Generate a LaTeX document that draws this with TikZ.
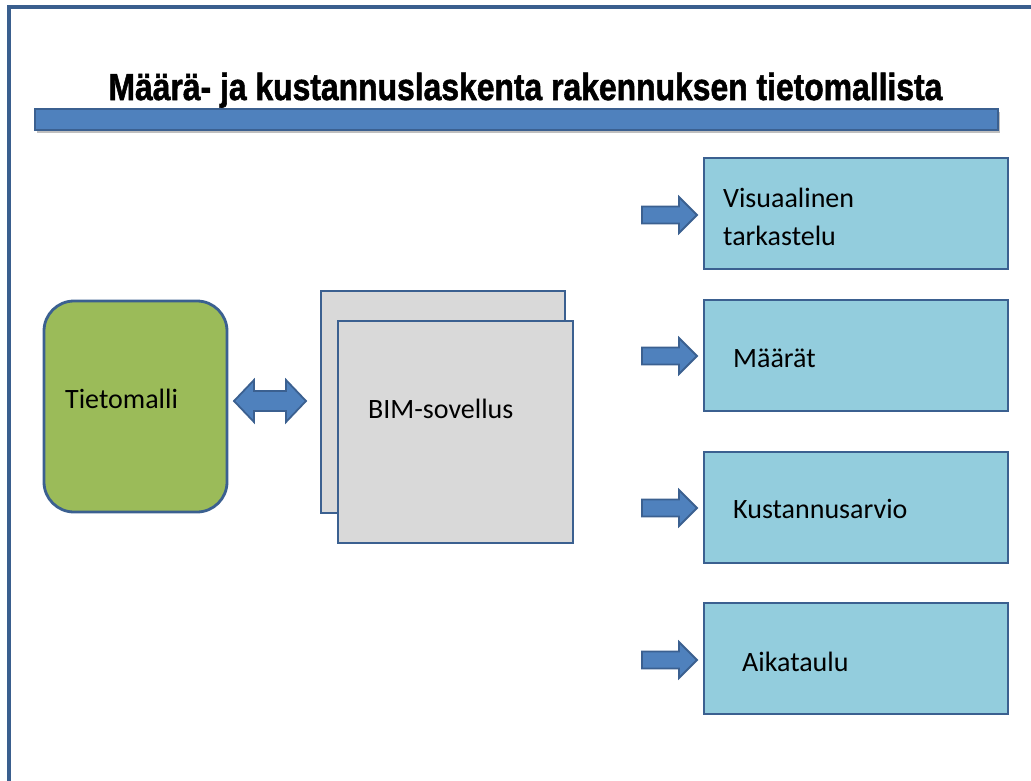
\documentclass[tikz,border=0pt]{standalone}
\usepackage{fontspec}
\setmainfont{Carlito}
\newfontfamily\titlefont[FakeBold=1.6]{Liberation Sans}
\usetikzlibrary{positioning}
\definecolor{frameblue}{HTML}{3A5F8E}
\definecolor{barblue}{HTML}{4F81BD}
\definecolor{bordblue}{HTML}{3B6090}
\definecolor{modelgreen}{HTML}{9BBB59}
\definecolor{bimgray}{HTML}{D9D9D9}
\definecolor{outblue}{HTML}{93CDDD}
\tikzset{
  boxline/.style={draw=bordblue, line width=2.8pt},
  outbox/.style={boxline, fill=outblue},
  bimbox/.style={boxline, fill=bimgray},
  blockarrow/.style={draw=bordblue, line width=1.8pt, fill=barblue, line join=miter},
  bodytext/.style={font=\fontsize{28}{38}\selectfont, anchor=base west, align=left, inner sep=0pt},
}
\begin{document}
\begin{tikzpicture}[x=1pt,y=-1pt]
\useasboundingbox (0,0) rectangle (1031,780);
% frame
\draw[frameblue, line width=3.2pt] (9,781) -- (9,7) -- (1032,7);
% title
\node[anchor=base, inner sep=0pt] (title) at (525.5,100)
  {\scalebox{0.845}[1]{\titlefont\bfseries\fontsize{37.7}{40}\selectfont Määrä- ja kustannuslaskenta rakennuksen tietomallista}};
% bar
\fill[black!25] (37,112) rectangle (1000,133);
\draw[boxline, fill=barblue, line width=2.2pt] (35,109) rectangle (998,130);
% Tietomalli
\draw[boxline, fill=modelgreen, rounded corners=30pt] (44,301) rectangle (227,512);
\node[bodytext] (tmtext) at (65,408) {Tietomalli};
% BIM boxes
\draw[bimbox] (321,291) rectangle (565,513);
\draw[bimbox] (338,321) rectangle (573,543);
\node[bodytext] (bimtext) at (368,418) {BIM-sovellus};
% double arrow
\draw[blockarrow] (234,401) -- (254,380) -- (254,391) -- (286,391) -- (286,380)
  -- (306,401) -- (286,422) -- (286,411) -- (254,411) -- (254,422) -- cycle;
% output boxes
\draw[outbox] (704,158) rectangle (1008,269);
\draw[outbox] (704,300) rectangle (1008,411);
\draw[outbox] (704,452) rectangle (1008,563);
\draw[outbox] (704,603) rectangle (1008,714);
\node[bodytext] (t1) at (723,245) {Visuaalinen\\tarkastelu};
\node[bodytext] (t2) at (733,367) {Määrät};
\node[bodytext] (t3) at (733,518) {Kustannusarvio};
\node[bodytext] (t4) at (742,671) {Aikataulu};
% arrows
\foreach \yc in {215,356,508,660}{
  \draw[blockarrow] (642,\yc-8.5) -- (679,\yc-8.5) -- (679,\yc-18) -- (697,\yc)
    -- (679,\yc+18) -- (679,\yc+8.5) -- (642,\yc+8.5) -- cycle;
}
\end{tikzpicture}
\end{document}
